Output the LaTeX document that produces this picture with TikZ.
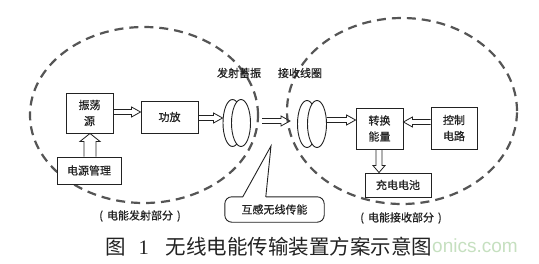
\documentclass[tikz,border=0pt]{standalone}
\usepackage{fontspec}
\setmainfont{Noto Sans CJK SC}
\newfontfamily\cjkmed{Noto Sans CJK SC}[FakeBold=0.6]
\newfontfamily\latinserif{Liberation Serif}
\newfontfamily\wmfont{Liberation Sans}
\usetikzlibrary{calc,shapes.geometric}
\definecolor{ink}{HTML}{222222}
\definecolor{dashc}{HTML}{555555}
\definecolor{wm}{RGB}{198,224,192}
% horizontal hollow arrow: #1 from, #2 to, #3 shaft half, #4 head half, #5 head length
\newcommand\harrow[5]{\draw[hollow] let \p1=(#1), \p2=(#2), \n1={(\x2>\x1)?1:-1} in
  (\x1,\y1+#3pt) -- (\x2-\n1*#5pt,\y1+#3pt) -- (\x2-\n1*#5pt,\y1+#4pt) -- (\x2,\y1)
  -- (\x2-\n1*#5pt,\y1-#4pt) -- (\x2-\n1*#5pt,\y1-#3pt) -- (\x1,\y1-#3pt);}
% vertical hollow arrow
\newcommand\varrow[5]{\draw[hollow] let \p1=(#1), \p2=(#2), \n1={(\y2>\y1)?1:-1} in
  (\x1+#3pt,\y1) -- (\x1+#3pt,\y2-\n1*#5pt) -- (\x1+#4pt,\y2-\n1*#5pt) -- (\x1,\y2)
  -- (\x1-#4pt,\y2-\n1*#5pt) -- (\x1-#3pt,\y2-\n1*#5pt) -- (\x1-#3pt,\y1);}
\begin{document}
\begin{tikzpicture}[x=1pt,y=-1pt,
  box/.style={draw=ink, line width=0.9pt, fill=white, inner sep=0pt, align=center,
    text=ink, font=\cjkmed\fontsize{11}{16}\selectfont},
  coil/.style={draw=ink, line width=0.9pt, fill=white, ellipse, inner sep=0pt,
    minimum width=19pt, minimum height=47pt},
  hollow/.style={draw=ink, line width=0.8pt, line join=miter},
  zone/.style={draw=dashc, line width=2.2pt, dash pattern=on 9pt off 6pt},
  lbl/.style={text=ink, font=\cjkmed\fontsize{11}{13}\selectfont, inner sep=0pt}]
\useasboundingbox (0,0) rectangle (539,263);
\fill[white] (0,0) rectangle (539,263);
% zones
\draw[zone] (144,115) ellipse [x radius=114pt, y radius=88pt];
\draw[zone] (402,111) ellipse [x radius=115pt, y radius=93pt];
% boxes
\node[box, minimum width=47pt, minimum height=40pt] (osc) at (89.5,113) {振荡\\源};
\node[box, minimum width=57pt, minimum height=32pt] (amp) at (169.5,117) {功放};
\node[box, minimum width=64pt, minimum height=27pt] (pwr) at (89,170.5) {电源管理};
\node[box, minimum width=47pt, minimum height=41pt] (conv) at (379.5,128.5) {转换\\能量};
\node[box, minimum width=46pt, minimum height=42pt] (ctrl) at (454,128) {控制\\电路};
\node[box, minimum width=66pt, minimum height=24pt] (bat) at (398,185) {充电电池};
% coils
\node[coil] (ca1) at (232.5,123) {};
\node[coil] (ca2) at (241,123) {};
\node[coil] (cb1) at (307,124) {};
\node[coil] (cb2) at (317,124) {};
\coordinate (m1) at (262,121);
\coordinate (m2) at (290,121);
% arrows
\harrow{osc.east |- 0,112}{amp.west |- 0,112}{2.5}{5}{9}
\harrow{amp.east |- 0,118}{ca1.west |- 0,118}{2.5}{5}{9}
\harrow{m1}{m2}{2.5}{5}{9}
\harrow{cb2.east |- 0,120}{conv.west |- 0,120}{2.5}{5}{9}
\harrow{ctrl.west |- 0,122}{conv.east |- 0,122}{2.5}{5}{9}
\varrow{conv.south -| 379,0}{bat.north -| 379,0}{3}{6}{7}
\varrow{pwr.north -| 90,0}{osc.south -| 90,0}{6}{10}{8}
% labels
\node[lbl] (ltx) at (239,73) {发射蓄振};
\node[lbl] (lrx) at (300,73) {接收线圈};
\node[lbl] (ztx) at (140,216) {(\hspace{4pt}电能发射部分\hspace{4pt})};
\node[lbl] (zrx) at (401,218) {(\hspace{4pt}电能接收部分\hspace{4pt})};
% callout
\node[lbl, minimum width=99pt, minimum height=25pt] (co) at (274.5,209.5) {互感无线传能};
\coordinate (tip) at (271,146);
\draw[ink, line width=0.9pt, rounded corners=7pt] ([xshift=18pt]co.north west) -- (co.north west)
  -- (co.south west) -- (co.south east) -- (co.north east) -- ([xshift=41pt]co.north west);
\draw[ink, line width=0.9pt] ([xshift=18pt]co.north west) -- (tip) -- ([xshift=41pt]co.north west);
% watermark and title
\node[anchor=west, inner sep=0pt, text=wm, font=\wmfont\fontsize{19}{21}\selectfont] (wmk) at (432,246) {onics.com};
\node[anchor=west, inner sep=0pt, text=ink, font=\fontsize{20.5}{24}\selectfont] (title) at (105,247)
  {图\hspace{13pt}{\latinserif 1}\hspace{17pt}无线电能传输装置方案示意图};
\end{tikzpicture}
\end{document}
